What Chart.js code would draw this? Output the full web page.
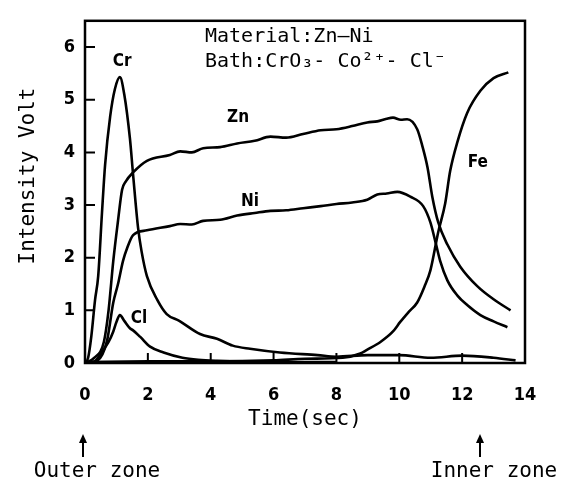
<!DOCTYPE html>
<html>
<head>
<meta charset="utf-8">
<script src="https://cdn.jsdelivr.net/npm/chart.js@4.4.1/dist/chart.umd.min.js"></script>
<style>
  html, body { margin: 0; padding: 0; background: #fff; }
  #wrap { width: 562px; height: 490px; }
</style>
</head>
<body>
<div id="wrap"><canvas id="chart" width="562" height="490"></canvas></div>
<script>
// values (time in sec, intensity in volt)
var crT = [0, 0.1, 0.2, 0.32, 0.42, 0.54, 0.64, 0.8, 0.95, 1.11, 1.25, 1.43, 1.53, 1.69, 1.8, 1.97, 2.3, 2.6, 3.0, 3.66, 4.2, 4.7, 5.25, 6.2, 7.4, 8.0, 9.0, 10.0, 11.0, 12.0, 13.0, 13.7];
var crV = [0, 0.1, 0.5, 1.2, 1.65, 2.85, 3.77, 4.68, 5.2, 5.43, 5.1, 4.26, 3.58, 2.56, 2.12, 1.65, 1.2, 0.93, 0.8, 0.55, 0.46, 0.33, 0.27, 0.2, 0.15, 0.12, 0.15, 0.15, 0.1, 0.14, 0.1, 0.05];

var znT = [0, 0.3, 0.6, 0.75, 0.9, 1.05, 1.18, 1.3, 1.53, 1.97, 2.7, 3.03, 3.4, 3.76, 4.3, 4.84, 5.4, 5.9, 6.4, 6.94, 7.5, 8.0, 8.5, 8.98, 9.3, 9.6, 9.8, 10.05, 10.25, 10.57, 10.73, 10.9, 11.05, 11.24, 11.53, 11.94, 12.48, 13.0, 13.54];
var znV = [0, 0.1, 0.4, 1.0, 1.94, 2.7, 3.29, 3.45, 3.62, 3.84, 3.95, 4.02, 4.0, 4.08, 4.1, 4.17, 4.22, 4.3, 4.28, 4.35, 4.42, 4.44, 4.5, 4.57, 4.59, 4.64, 4.66, 4.62, 4.63, 4.44, 4.13, 3.71, 3.16, 2.67, 2.25, 1.83, 1.46, 1.21, 1.0];

var niT = [0, 0.4, 0.7, 0.9, 1.05, 1.21, 1.35, 1.53, 1.97, 2.7, 3.03, 3.4, 3.76, 4.3, 4.84, 5.4, 5.9, 6.4, 6.94, 7.5, 8.0, 8.5, 8.98, 9.3, 9.6, 9.94, 10.35, 10.76, 10.99, 11.15, 11.3, 11.53, 11.85, 12.16, 12.58, 13.0, 13.44];
var niV = [0, 0.05, 0.42, 1.15, 1.5, 1.94, 2.2, 2.43, 2.52, 2.6, 2.64, 2.63, 2.7, 2.72, 2.8, 2.85, 2.89, 2.9, 2.94, 2.98, 3.02, 3.05, 3.1, 3.2, 3.22, 3.25, 3.16, 2.98, 2.67, 2.3, 1.94, 1.57, 1.28, 1.1, 0.91, 0.79, 0.68];

var feT = [0, 2, 4, 6, 7, 8.2, 8.76, 8.97, 9.4, 9.8, 10.03, 10.3, 10.57, 10.8, 10.99, 11.24, 11.46, 11.62, 11.85, 12.16, 12.58, 13.0, 13.47];
var feV = [0.02, 0.03, 0.03, 0.05, 0.08, 0.1, 0.18, 0.25, 0.4, 0.6, 0.78, 0.97, 1.15, 1.45, 1.76, 2.49, 3.03, 3.65, 4.2, 4.75, 5.17, 5.41, 5.52];

var clT = [0, 0.3, 0.57, 0.75, 0.9, 1.0, 1.11, 1.25, 1.43, 1.53, 1.75, 2.07, 2.5, 3.1, 3.6, 4.2, 5, 6, 7, 8];
var clV = [0, 0.03, 0.24, 0.4, 0.6, 0.78, 0.91, 0.8, 0.66, 0.62, 0.5, 0.31, 0.2, 0.1, 0.06, 0.04, 0.03, 0.03, 0.02, 0.02];

// curve labels: [text, time, volt]
var curveLabels = [["Cr", 1.18, 5.72], ["Zn", 4.87, 4.66], ["Ni", 5.25, 3.07], ["Cl", 1.72, 0.84], ["Fe", 12.5, 3.8]];
var xTicks = [0, 2, 4, 6, 8, 10, 12, 14];
var yTicks = [0, 1, 2, 3, 4, 5, 6];

var mono = "'DejaVu Sans Mono', 'Liberation Mono', monospace";
var narrow = "'Liberation Sans Narrow', 'DejaVu Sans Condensed', 'Liberation Sans', sans-serif";

function pts(t, v) {
    var out = [];
    for (var i = 0; i < t.length; i++) {
        out.push({x: t[i], y: v[i]});
    }
    return out;
}

function line(label, t, v) {
    return {
        label: label,
        data: pts(t, v),
        borderColor: "#000",
        borderWidth: 2.6,
        pointRadius: 0,
        fill: false,
        cubicInterpolationMode: "monotone"
    };
}

function arrowUp(ctx, x, top, bottom) {
    ctx.beginPath();
    ctx.moveTo(x, bottom);
    ctx.lineTo(x, top + 2);
    ctx.stroke();
    ctx.beginPath();
    ctx.moveTo(x, top);
    ctx.lineTo(x - 4, top + 9);
    ctx.lineTo(x + 4, top + 9);
    ctx.closePath();
    ctx.fill();
}

var decor = {
    id: "decor",
    afterDraw: function(chart) {
        var ctx = chart.ctx;
        var a = chart.chartArea;
        var xs = chart.scales.x, ys = chart.scales.y;
        ctx.save();
        ctx.strokeStyle = "#000";
        ctx.fillStyle = "#000";
        // frame
        ctx.lineWidth = 2.5;
        ctx.strokeRect(a.left, a.top, a.right - a.left, a.bottom - a.top);
        // inward ticks
        ctx.lineWidth = 2;
        ctx.beginPath();
        yTicks.forEach(function(v) {
            if (v === 0) return;
            var y = ys.getPixelForValue(v);
            ctx.moveTo(a.left, y);
            ctx.lineTo(a.left + 10, y);
        });
        xTicks.forEach(function(t) {
            if (t === 0 || t === 14) return;
            var x = xs.getPixelForValue(t);
            ctx.moveTo(x, a.bottom);
            ctx.lineTo(x, a.bottom - 10);
        });
        ctx.stroke();
        // curve names
        ctx.font = "bold 17px " + narrow;
        ctx.textAlign = "center";
        ctx.textBaseline = "middle";
        curveLabels.forEach(function(c) {
            ctx.fillText(c[0], xs.getPixelForValue(c[1]), ys.getPixelForValue(c[2]));
        });
        // sample note
        ctx.font = "20px " + mono;
        ctx.textAlign = "left";
        ctx.textBaseline = "alphabetic";
        ctx.fillText("Material:Zn\u2014Ni", 205, 42);
        ctx.fillText("Bath:CrO\u2083- Co\u00b2\u207a- Cl\u207b", 205, 67);
        // axis titles
        ctx.textAlign = "center";
        ctx.textBaseline = "middle";
        ctx.font = "21px " + mono;
        ctx.fillText("Time(sec)", (a.left + a.right) / 2, 420);
        ctx.save();
        ctx.translate(29, 176);
        ctx.rotate(-Math.PI / 2);
        ctx.fillText("Intensity Volt", 0, 0);
        ctx.restore();
        // zone marks
        ctx.lineWidth = 2;
        arrowUp(ctx, 83, 434, 457);
        arrowUp(ctx, 480, 434, 457);
        ctx.font = "21px " + mono;
        ctx.fillText("Outer zone", 97, 472);
        ctx.fillText("Inner zone", 494, 472);
        ctx.restore();
    }
};

const ctx = document.getElementById("chart").getContext("2d");
const chart = new Chart(ctx, {
    type: "line",
    data: {
        datasets: [
            line("Cr", crT, crV),
            line("Zn", znT, znV),
            line("Ni", niT, niV),
            line("Fe", feT, feV),
            line("Cl", clT, clV)
        ]
    },
    options: {
        responsive: false,
        animation: false,
        layout: {padding: {left: 0, right: 37, top: 10, bottom: 0}},
        plugins: {legend: {display: false}, tooltip: {enabled: false}},
        scales: {
            x: {
                type: "linear",
                min: 0,
                max: 14,
                grid: {display: false, drawTicks: false},
                border: {display: false},
                afterFit: function(s) { s.height = 127; },
                ticks: {
                    stepSize: 2,
                    autoSkip: false,
                    maxRotation: 0,
                    padding: 22,
                    color: "#000",
                    font: {family: narrow, size: 18, weight: "bold"}
                }
            },
            y: {
                min: 0,
                max: 6.5,
                grid: {display: false, drawTicks: false},
                border: {display: false},
                afterFit: function(s) { s.width = 85; },
                ticks: {
                    stepSize: 1,
                    padding: 10,
                    color: "#000",
                    font: {family: narrow, size: 18, weight: "bold"},
                    callback: function(v) { return v % 1 === 0 ? v : ""; }
                }
            }
        }
    },
    plugins: [decor]
});
</script>
</body>
</html>
